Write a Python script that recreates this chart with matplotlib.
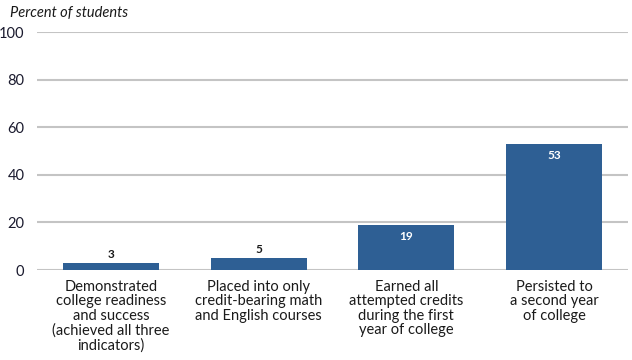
import matplotlib
matplotlib.use("Agg")
import matplotlib.pyplot as plt

# chart data
categories = [
    "Demonstrated\ncollege readiness\nand success\n(achieved all three\nindicators)",
    "Placed into only\ncredit-bearing math\nand English courses",
    "Earned all\nattempted credits\nduring the first\nyear of college",
    "Persisted to\na second year\nof college",
]
values = [3, 5, 19, 53]
yticks = [0, 20, 40, 60, 80, 100]

plt.rcParams['font.family'] = ['Lato', 'DejaVu Sans']

fig = plt.figure(figsize=(6.32, 3.6), dpi=100)
ax = fig.add_axes([0.0585, 0.25, 0.935, 0.661])

x = list(range(len(values)))
bars = ax.bar(x, values, width=0.65, color='#2e5f94', zorder=3)

# value labels: outside for short bars, inside for tall ones
for b, v in zip(bars, values):
    cx = b.get_x() + b.get_width() / 2
    if v < 10:
        ax.text(cx, v + 1.2, str(v), ha='center', va='bottom',
                fontsize=8.5, fontweight='bold', color='#1a1a1a')
    else:
        ax.text(cx, v - 2.5, str(v), ha='center', va='top',
                fontsize=8.5, fontweight='bold', color='white')

ax.set_xlim(-0.5, len(values) - 0.5)
ax.set_ylim(0, 100)
ax.set_yticks(yticks)
ax.set_yticklabels([str(t) for t in yticks], fontsize=10.5, color='#1a1a2e')
ax.set_xticks(x)
ax.set_xticklabels(categories, fontsize=10.5, color='#1a1a1a', linespacing=1.05, va='top')
ax.tick_params(axis='both', length=0)
ax.tick_params(axis='x', pad=7)
ax.tick_params(axis='y', pad=9)

ax.yaxis.grid(True, color='#c4c4c4', linewidth=1.5, zorder=0)
ax.set_axisbelow(True)
for s in ax.spines.values():
    s.set_visible(False)

fig.text(0.016, 0.965, "Percent of students", fontsize=10.5, style='italic',
         ha='left', va='center', color='#1a1a1a')

fig.savefig("out.png", dpi=100)
